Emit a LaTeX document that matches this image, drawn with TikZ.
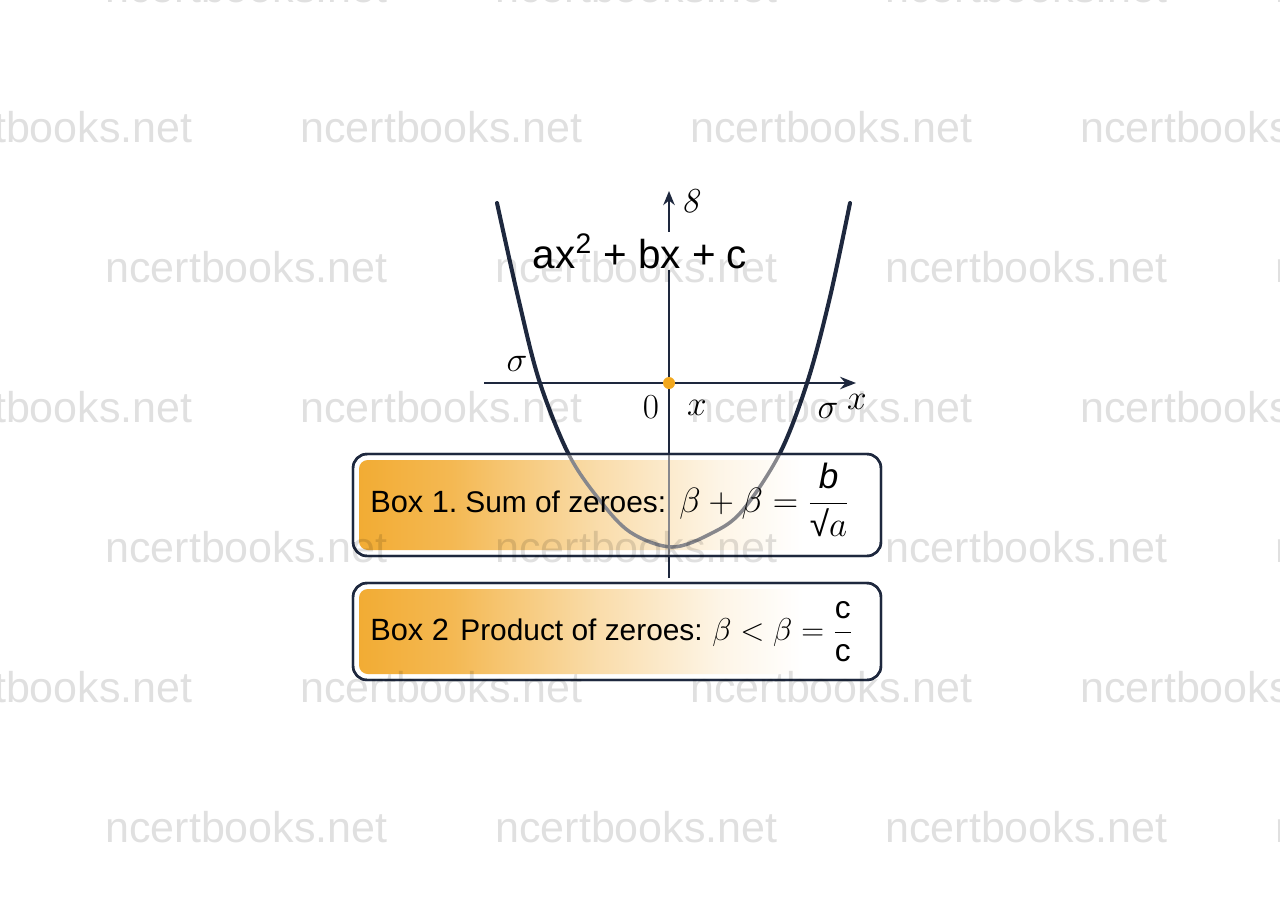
\documentclass[tikz,border=0pt]{standalone}
\usepackage{fix-cm}
\usepackage{fontspec}
\newfontfamily\sansfont{Liberation Sans}
\usetikzlibrary{arrows.meta}
\definecolor{navy}{RGB}{30,40,62}
\definecolor{dotorange}{RGB}{242,168,30}
\definecolor{boxorange}{RGB}{242,172,52}
\definecolor{curvegray}{RGB}{135,135,140}
\pgfdeclarehorizontalshading{boxfade}{100bp}{color(0bp)=(boxorange); color(25bp)=(boxorange); color(34bp)=(boxorange!85!white); color(48bp)=(boxorange!42!white); color(60bp)=(boxorange!12!white); color(68bp)=(white); color(100bp)=(white)}
\tikzset{
  axis/.style={navy, line width=1.4pt},
  curve/.style={navy, line width=2.3pt, line cap=round},
  boxframe/.style={navy, line width=1.4pt, rounded corners=8pt, fill=white},
  boxfill/.style={shading=boxfade, rounded corners=5pt},
  boxlabel/.style={anchor=base west, inner sep=0pt, font=\sansfont\fontsize{17.5}{21}\selectfont},
  boxtext/.style={anchor=base west, inner sep=0pt, font=\sansfont\fontsize{17}{20}\selectfont},
  boxmath/.style={anchor=base west, inner sep=0pt, font=\fontsize{18}{22}\selectfont},
  axlabel/.style={inner sep=0pt, font=\fontsize{20}{24}\selectfont},
  wmtext/.style={anchor=base west, inner sep=0pt, black, opacity=0.12, font=\sansfont\fontsize{24.5}{25}\selectfont}
}
\begin{document}
\begin{tikzpicture}[x=0.02cm,y=-0.02cm]
	\useasboundingbox (0,0) rectangle (1280,896);
	\fill[white] (0,0) rectangle (1280,896);
	% parabola and axes
	\draw[curve] plot[smooth, tension=0.55] coordinates {(497,203) (518,297) (539,380) (568,453) (598,498) (630,532) (672,547) (712,533) (742,511) (780,453) (808,380) (830,297) (850,203)};
	\coordinate (ybot) at (669,578);
	\coordinate (ytop) at (669,191);
	\coordinate (xleft) at (484,383);
	\coordinate (xright) at (856,383);
	\draw[axis, -{Stealth[length=8pt,width=6.5pt]}] (ybot) -- (ytop);
	\draw[axis, -{Stealth[length=9pt,width=7pt]}] (xleft) -- (xright);
	\fill[dotorange] (669,383) circle (6);
	\node[fill=white, inner sep=1pt, anchor=base, font=\sansfont\fontsize{23}{26}\selectfont] (poly) at (640,268) {ax\textsuperscript{2} + bx + c};
	\node[axlabel, anchor=base west] (ylab) at (681,212) {\textit{8}};
	\node[axlabel] (sigl) at (517,364) {$\sigma$};
	\node[axlabel] (sigr) at (828,411) {$\sigma$};
	\node[axlabel] (xlab) at (857,402) {$x$};
	\node[axlabel] (orig) at (651,407) {$0$};
	\node[axlabel] (xmid) at (697,408) {$x$};
	% box 1
	\draw[boxframe] (353,454) rectangle (881,556);
	\shade[boxfill] (359,460) rectangle (875,550);
	\begin{scope}
		\clip[rounded corners=8pt] (353,454) rectangle (881,556);
		\draw[curvegray, line width=2pt] plot[smooth, tension=0.55] coordinates {(497,203) (518,297) (539,380) (568,453) (598,498) (630,532) (672,547) (712,533) (742,511) (780,453) (808,380) (830,297) (850,203)};
		\draw[curvegray, line width=0.8pt] (ybot) -- (ytop);
	\end{scope}
	\draw[navy, line width=1.4pt, rounded corners=8pt] (353,454) rectangle (881,556);
	\node[boxlabel] (boxa) at (370,512) {Box 1.};
	\node[boxtext] (suma) at (465,512) {Sum of zeroes:};
	\node[boxmath, font=\fontsize{20}{24}\selectfont] (mtha) at (679,512) {$\beta+\beta=\displaystyle\frac{\mbox{\sansfont\itshape b}}{\mbox{\sansfont √}a}$};
	% box 2
	\draw[boxframe] (353,583) rectangle (881,680);
	\shade[boxfill] (359,589) rectangle (875,674);
	\draw[navy, line width=1.4pt, rounded corners=8pt] (353,583) rectangle (881,680);
	\node[boxlabel] (boxb) at (370,640) {Box 2};
	\node[boxtext] (prodb) at (460,640) {Product of zeroes:};
	\node[boxmath] (mthb) at (712,640) {$\beta<\beta=\displaystyle\frac{\mbox{\sansfont c}}{\mbox{\sansfont c}}$};
	% watermark
	\foreach \wx in {-90,300,690,1080}
		\foreach \wy in {142,422,702}
			\node[wmtext] (wa\wx\wy) at (\wx,\wy) {ncertbooks.net};
	\foreach \wx in {105,495,885,1275}
		\foreach \wy in {2,282,562,842}
			\node[wmtext] (wb\wx\wy) at (\wx,\wy) {ncertbooks.net};
\end{tikzpicture}
\end{document}
